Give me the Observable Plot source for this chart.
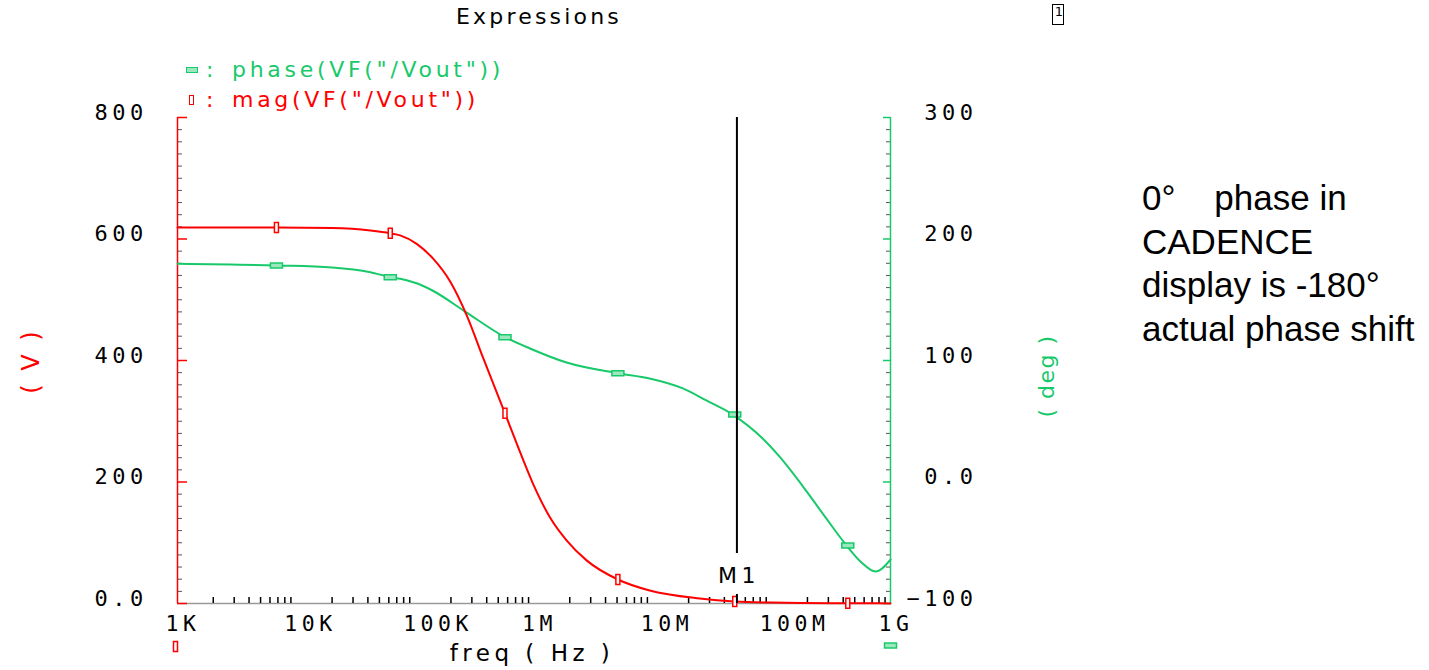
<!DOCTYPE html>
<html><head><meta charset="utf-8">
<script src="https://cdn.jsdelivr.net/npm/d3@7"></script>
<script src="https://cdn.jsdelivr.net/npm/@observablehq/plot@0.6"></script>
<style>
body{margin:0;background:#fff;}
#wrap{position:relative;width:1429px;height:670px;overflow:hidden;font-family:"DejaVu Sans",sans-serif;color:#000;}
#chart{position:absolute;left:0;top:0;}
#chart svg text{letter-spacing:4.5px;}
.abs{position:absolute;white-space:pre;line-height:1;}
.cad{font-family:"DejaVu Sans",sans-serif;font-size:22px;letter-spacing:3.2px;}
.leg{font-family:"DejaVu Sans",sans-serif;font-size:22px;letter-spacing:3.7px;}
.rot{position:absolute;white-space:pre;line-height:1;transform:translate(-50%,-50%) rotate(-90deg);font-family:"DejaVu Sans",sans-serif;}
.note{position:absolute;left:1142px;top:176px;font-family:"Liberation Sans",Arial,sans-serif;font-size:35px;line-height:43.7px;white-space:pre;color:#000;}
</style></head><body>
<div id="wrap">
  <div id="chart"></div>
  <div class="abs cad" style="left:0;width:1078px;text-align:center;top:6px;">Expressions</div>
  <div class="abs" style="left:1052px;top:4px;width:10px;height:19px;border:1.5px solid #000;font-size:13px;text-align:right;font-family:'DejaVu Sans';">1</div>
  <div class="abs" style="left:186px;top:67px;width:10px;height:4px;border:1.5px solid #18c96a;background:#9be8bf;"></div>
  <div class="abs leg" style="left:206px;top:59px;color:#18c96a;">:</div>
  <div class="abs leg" style="left:232px;top:59px;color:#18c96a;">phase(VF("/Vout"))</div>
  <div class="abs" style="left:189px;top:95px;width:3px;height:8px;border:1.5px solid #ff0000;"></div>
  <div class="abs leg" style="left:206px;top:89px;color:#ff0000;">:</div>
  <div class="abs leg" style="left:232px;top:89px;color:#ff0000;">mag(VF("/Vout"))</div>
  <div class="rot" style="left:31px;top:361px;color:#ff0000;font-size:24px;letter-spacing:3px;">( V )</div>
  <div class="rot" style="left:1047px;top:376px;color:#18c96a;font-size:22px;letter-spacing:1.5px;">( deg )</div>
  <div class="note">0°    phase in
CADENCE
display is -180°
actual phase shift</div>
</div>
<script>
// ---- data ----
const magFreq = [1e3, 6.8e3, 20e3, 42e3, 61.7e3, 74.8e3, 103e3, 141e3, 197e3, 272e3, 372e3, 570e3, 716e3, 982e3, 1.36e6, 1.88e6, 2.77e6, 5.08e6, 9.4e6, 24.8e6, 48.9e6, 100e6, 437e6, 1e9];
const magV    = [619, 619, 618, 614, 609.5, 606, 592, 568, 530, 474, 405, 313, 263, 197, 142, 104, 71, 39.5, 21.4, 8.2, 3.3, 1.6, 0.4, 0.2];

const phaseFreq = [1e3, 6.8e3, 20e3, 42e3, 61.7e3, 74.8e3, 117e3, 141e3, 263e3, 570e3, 925e3, 1.88e6, 5.08e6, 9.4e6, 17.9e6, 28.2e6, 47e6, 84e6, 117e6, 196e6, 288e6, 427e6, 567e6, 748e6, 1e9];
const phaseDeg  = [179.6, 178.2, 176.6, 172.7, 168.6, 167.2, 161.3, 157.4, 140.3, 119.2, 109.9, 98.3, 89.5, 85.2, 77, 67.1, 55.5, 35.8, 20.6, -7.5, -30, -52.3, -66, -73.7, -63.8];

const markerFreq  = [6.8e3, 61.7e3, 570e3, 5.08e6, 48.9e6, 437e6];
const markerMag   = [619, 609.5, 313, 39.5, 3.3, 0.4];
const markerPhase = [178.2, 168.6, 119.2, 89.5, 55.5, -52.3];

const m1Freq = 5.1e7;

const xTicks = [1e3, 1e4, 1e5, 1e6, 1e7, 1e8, 1e9];
const xTickLabels = ["1K", "10K", "100K", "1M", "10M", "100M", "1G"];
const leftTicks = [0, 200, 400, 600, 800];
const leftTickLabels = ["0.0", "200", "400", "600", "800"];
const rightTicks = [-100, 0, 100, 200, 300];
const rightTickLabels = ["\u2212100", "0.0", "100", "200", "300"];

// ---- build ----
const RED = "#ff0000", GREEN = "#18c96a";
const MONO = "'DejaVu Sans Mono', monospace";
const ph2y = p => (p + 100) * 2; // phase axis (-100..300) shares the frame with mag axis (0..800)

const magData = magFreq.map((f, i) => ({f, v: magV[i]}));
const phaseData = phaseFreq.map((f, i) => ({f, p: phaseDeg[i]}));
const markers = markerFreq.map((f, i) => ({f, m: markerMag[i], p: markerPhase[i]}));

const xLabelMap = new Map(xTicks.map((t, i) => [t, xTickLabels[i]]));
const leftLabelMap = new Map(leftTicks.map((t, i) => [t, leftTickLabels[i]]));
const rightLabelMap = new Map(rightTicks.map((t, i) => [ph2y(t), rightTickLabels[i]]));

const logTicks = d3.scaleLog().domain([1e3, 1e9]).ticks();
const minorX = logTicks.filter(t => !xTicks.some(d => Math.abs(d - t) / d < 1e-9));
const minorY = d3.range(20, 800, 20).filter(v => v % 200 !== 0);

const vrect = {draw(ctx) { ctx.rect(-2, -5, 4, 10); }};
const hrect = {draw(ctx) { ctx.rect(-6, -2.5, 12, 5); }};

const blank = () => "";

const chart = Plot.plot({
  width: 1429,
  height: 670,
  marginLeft: 177,
  marginRight: 539,
  marginTop: 117,
  marginBottom: 67,
  style: {fontFamily: "'DejaVu Sans', sans-serif", fontSize: "22px", color: "#000", background: "transparent", overflow: "visible"},
  x: {type: "log", domain: [1e3, 1e9]},
  y: {domain: [0, 800]},
  marks: [
    Plot.ruleY([0], {stroke: "#9a9a9a", strokeWidth: 1.5}),
    // x minor ticks (inward)
    Plot.axisX({anchor: "bottom", ticks: minorX, tickSize: -6, tickFormat: blank, stroke: "#000", strokeWidth: 1.5, label: null}),
    // x labels
    Plot.axisX({anchor: "bottom", ticks: xTicks, tickSize: 0, tickPadding: 12, textAnchor: "start", dx: -12, tickFormat: d => xLabelMap.get(d), fontSize: 21.5, fontFamily: MONO, label: null}),
    // left axis
    Plot.axisY({anchor: "left", ticks: minorY, tickSize: -5, tickFormat: blank, stroke: "#555", label: null}),
    Plot.axisY({anchor: "left", ticks: leftTicks, tickSize: -10, tickFormat: blank, stroke: RED, strokeWidth: 1.5, label: null}),
    Plot.axisY({anchor: "left", ticks: leftTicks, tickSize: 0, tickPadding: 83, textAnchor: "start", dy: -5, tickFormat: d => leftLabelMap.get(d), fontSize: 22, fontFamily: MONO, label: null}),
    // right axis
    Plot.axisY({anchor: "right", ticks: minorY, tickSize: -5, tickFormat: blank, stroke: "#555", label: null}),
    Plot.axisY({anchor: "right", ticks: rightTicks.map(ph2y), tickSize: -8, tickFormat: blank, stroke: GREEN, strokeWidth: 1.5, label: null}),
    Plot.axisY({anchor: "right", ticks: rightTicks.map(ph2y), tickSize: 0, tickPadding: 87, textAnchor: "end", dy: -5, tickFormat: d => rightLabelMap.get(d), fontSize: 22, fontFamily: MONO, label: null}),
    Plot.ruleX([1e3], {stroke: RED, strokeWidth: 1.5}),
    Plot.ruleX([1e9], {stroke: GREEN, strokeWidth: 1.5}),
    // curves
    Plot.line(phaseData, {x: "f", y: d => ph2y(d.p), stroke: GREEN, strokeWidth: 2, curve: "monotone-x"}),
    Plot.line(magData, {x: "f", y: "v", stroke: RED, strokeWidth: 2, curve: "monotone-x"}),
    Plot.dot(markers, {x: "f", y: d => ph2y(d.p), symbol: hrect, stroke: GREEN, fill: "#9be8bf", strokeWidth: 1.5}),
    Plot.dot(markers, {x: "f", y: "m", symbol: vrect, stroke: RED, fill: "#fff", strokeWidth: 1.5}),
    // marker M1
    Plot.ruleX([m1Freq], {stroke: "#000", strokeWidth: 2, insetBottom: 50}),
    Plot.axisX({anchor: "bottom", ticks: [m1Freq], tickSize: -9, tickFormat: blank, stroke: "#000", strokeWidth: 2, label: null}),
    Plot.text([m1Freq], {x: d => d, frameAnchor: "bottom", lineAnchor: "middle", textAnchor: "middle", dy: -28, dx: 2, text: () => "M1", fontSize: 22}),
    // x axis title
    Plot.text(["freq ( Hz )"], {frameAnchor: "bottom", lineAnchor: "middle", textAnchor: "middle", dy: 50, dx: -2, text: d => d, fontSize: 23}),
    // trace markers under the x axis
    Plot.dot([1e3], {x: d => d, frameAnchor: "bottom", dy: 43, dx: -2, symbol: vrect, stroke: RED, fill: "#fff", strokeWidth: 1.5}),
    Plot.dot([1e9], {x: d => d, frameAnchor: "bottom", dy: 42, symbol: hrect, stroke: GREEN, fill: "#9be8bf", strokeWidth: 1.5})
  ]
});
document.getElementById("chart").appendChild(chart);
</script>
</body></html>
